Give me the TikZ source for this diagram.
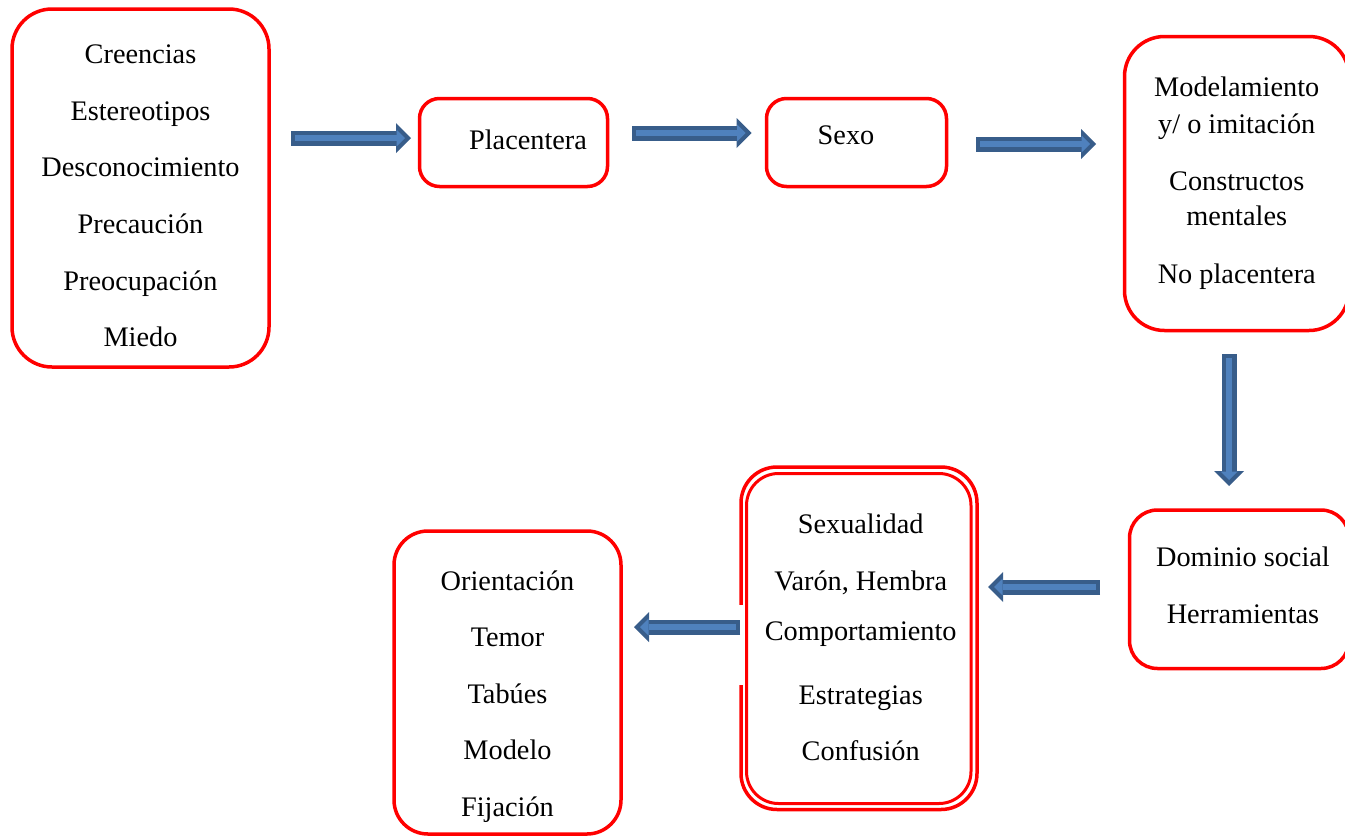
\documentclass[tikz,border=0pt]{standalone}
\usepackage{fontspec}
\setmainfont{Liberation Serif}
\usetikzlibrary{positioning,arrows.meta}
\definecolor{boxred}{RGB}{255,0,0}
\definecolor{flowdark}{RGB}{56,93,138}
\definecolor{flowlight}{RGB}{79,129,189}
\newcommand{\boxfont}{\fontsize{28.3}{34}\selectfont}
\tikzset{
  box/.style={draw=boxred, line width=3.5pt, rounded corners=#1, inner sep=0pt},
  box/.default=30pt,
  words/.style={inner sep=0pt, font=\boxfont},
  flow/.style={draw=flowdark, line width=15pt,
    -{Triangle[width=30pt,length=15pt,line width=0pt]},
    postaction={draw=flowlight, line width=6.5pt, shorten <=4pt, shorten >=6pt,
      -{Triangle[width=17pt,length=8.5pt,line width=0pt]}}}
}
\begin{document}
\begin{tikzpicture}[x=1pt, y=-1pt]
\useasboundingbox (0,0) rectangle (1345,836);

% frames
\node[box=40pt, minimum width=257pt, minimum height=358pt] (beliefs) at (140.5,188) {};
\node[box=20pt, minimum width=188pt, minimum height=88pt] (pleasant) at (513.5,142.5) {};
\node[box=20pt, minimum width=180pt, minimum height=88pt] (sex) at (856.5,142.5) {};
\node[box=40pt, minimum width=224.5pt, minimum height=294pt] (modeling) at (1236.75,183.5) {};
\node[box=28pt, minimum width=219.5pt, minimum height=158.5pt] (social) at (1239.25,589.25) {};
\node[box=36pt, minimum width=236pt, minimum height=342.5pt] (sexuality) at (859,638.25) {};
\fill[white] (737,605) rectangle (975,685);
\node[box=32pt, line width=3pt, minimum width=224.5pt, minimum height=330pt] (sexuality-in) at (858.75,638.5) {};
\node[box=34pt, minimum width=227pt, minimum height=303pt] (fears) at (507.5,682.5) {};

% texts
\node[words, below=32.2pt of beliefs.north] (beliefs-txt) {\begin{tabular}{c}
  Creencias \\[22.7pt]
  Estereotipos \\[22.7pt]
  Desconocimiento \\[22.7pt]
  Precaución \\[22.7pt]
  Preocupación \\[22.7pt]
  Miedo
\end{tabular}};
\node[words, below=28.7pt of pleasant.north, xshift=14.5pt] (pleasant-txt) {\begin{tabular}{c}
  Placentera
\end{tabular}};
\node[words, below=23.7pt of sex.north, xshift=-10.5pt] (sex-txt) {\begin{tabular}{c}
  Sexo
\end{tabular}};
\node[words, below=38pt of modeling.north] (modeling-txt) {\begin{tabular}{c}
  Modelamiento \\[2.7pt]
  y/ o imitación \\[22.7pt]
  Constructos \\[1pt]
  mentales \\[24.3pt]
  No placentera
\end{tabular}};
\node[words, below=34.5pt of social.north, xshift=3.75pt] (social-txt) {\begin{tabular}{c}
  Dominio social \\[22.7pt]
  Herramientas
\end{tabular}};
\node[words, below=44.2pt of sexuality.north, xshift=1.7pt] (sexuality-txt) {\begin{tabular}{c}
  Sexualidad \\[22.7pt]
  Varón, Hembra \\[16pt]
  Comportamiento \\[30.3pt]
  Estrategias \\[21.7pt]
  Confusión
\end{tabular}};
\node[words, below=36.9pt of fears.north] (fears-txt) {\begin{tabular}{c}
  Orientación \\[22.5pt]
  Temor \\[22.5pt]
  Tabúes \\[22.5pt]
  Modelo \\[22.5pt]
  Fijación
\end{tabular}};

% arrows
\coordinate (a1-from) at (291,138);  \coordinate (a1-to) at (411,138);
\coordinate (a2-from) at (632,133); \coordinate (a2-to) at (751.5,133);
\coordinate (a3-from) at (976,144);  \coordinate (a3-to) at (1096,144);
\coordinate (a4-from) at (1229,354); \coordinate (a4-to) at (1229,486);
\coordinate (a5-from) at (1100,587); \coordinate (a5-to) at (988,587);
\coordinate (a6-from) at (740,627);  \coordinate (a6-to) at (634,627);
\draw[flow] (a1-from) -- (a1-to);
\draw[flow] (a2-from) -- (a2-to);
\draw[flow] (a3-from) -- (a3-to);
\draw[flow] (a4-from) -- (a4-to);
\draw[flow] (a5-from) -- (a5-to);
\draw[flow] (a6-from) -- (a6-to);
\end{tikzpicture}
\end{document}
